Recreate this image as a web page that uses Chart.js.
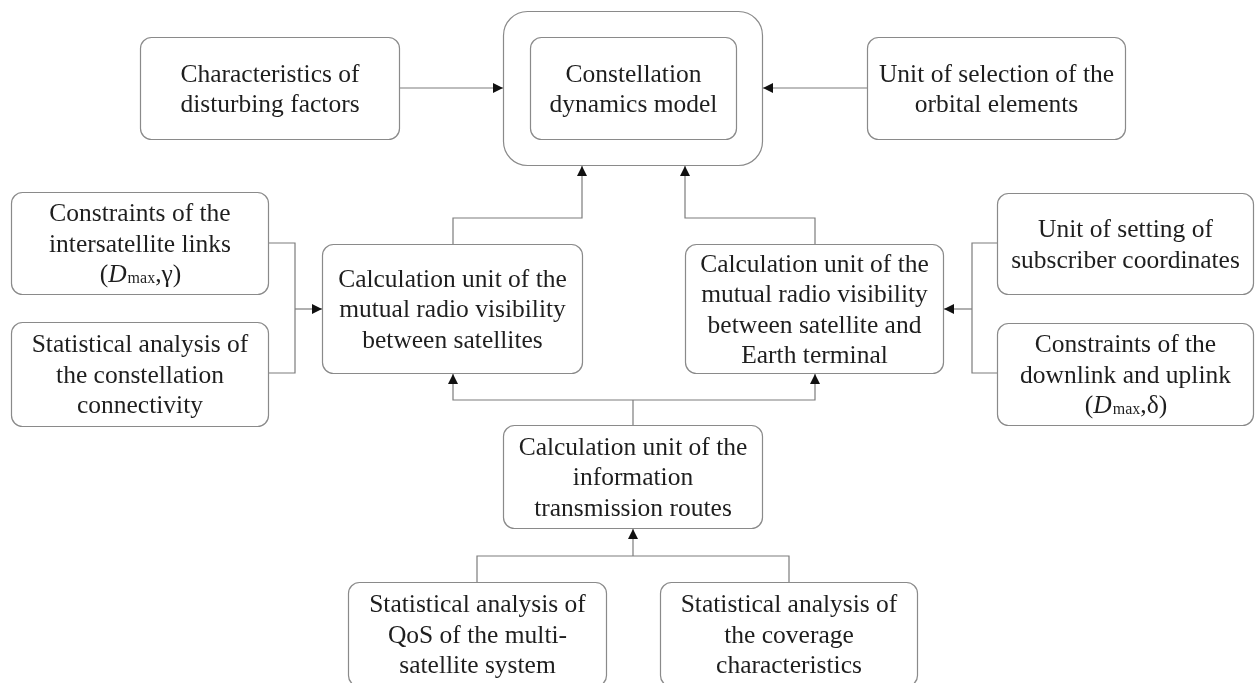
<!DOCTYPE html>
<html>
<head>
<meta charset="utf-8">
<script src="https://cdn.jsdelivr.net/npm/chart.js@4.4.1/dist/chart.umd.min.js"></script>
<style>
  html, body { margin: 0; padding: 0; background: #ffffff; }
  #wrap { width: 1255px; height: 683px; position: relative; }
</style>
</head>
<body>
<div id="wrap"><canvas id="c" width="1255" height="683"></canvas></div>
<script>
// ---- Diagram data (diagram units = reference pixels) ----
const boxLabels = [
  ["Characteristics of", "disturbing factors"],
  ["Constellation", "dynamics model"],
  ["Unit of selection of the", "orbital elements"],
  ["Constraints of the", "intersatellite links", "([i]D[/i][s]max[/s],γ)"],
  ["Statistical analysis of", "the constellation", "connectivity"],
  ["Calculation unit of the", "mutual radio visibility", "between satellites"],
  ["Calculation unit of the", "mutual radio visibility", "between satellite and", "Earth terminal"],
  ["Unit of setting of", "subscriber coordinates"],
  ["Constraints of the", "downlink and uplink", "([i]D[/i][s]max[/s],δ)"],
  ["Calculation unit of the", "information", "transmission routes"],
  ["Statistical analysis of", "QoS of the multi-", "satellite system"],
  ["Statistical analysis of", "the coverage", "characteristics"]
];
const boxLeft   = [140, 530, 867, 11, 11, 322, 685, 997, 997, 503, 348, 660];
const boxRight  = [400, 737, 1126, 269, 269, 583, 944, 1254, 1254, 763, 607, 918];
const boxTop    = [37, 37, 37, 192, 322, 244, 244, 193, 323, 425, 582, 582];
const boxBottom = [140, 140, 140, 295, 427, 374, 374, 295, 426, 529, 687, 687];

// outer frame around "Constellation dynamics model"
const frameLeft = [503], frameRight = [763], frameTop = [11], frameBottom = [166];

// connectors: polylines; arrow flag marks an arrowhead at the last point
const connectors = [
  { pts: [[400, 88], [503, 88]], arrow: true },
  { pts: [[867, 88], [763, 88]], arrow: true },
  { pts: [[453, 244], [453, 218], [582, 218], [582, 166]], arrow: true },
  { pts: [[815, 244], [815, 218], [685, 218], [685, 166]], arrow: true },
  { pts: [[269, 243], [295, 243], [295, 373], [269, 373]], arrow: false },
  { pts: [[295, 309], [322, 309]], arrow: true },
  { pts: [[997, 243], [972, 243], [972, 373], [997, 373]], arrow: false },
  { pts: [[972, 309], [944, 309]], arrow: true },
  { pts: [[633, 425], [633, 400]], arrow: false },
  { pts: [[633, 400], [453, 400], [453, 374]], arrow: true },
  { pts: [[633, 400], [815, 400], [815, 374]], arrow: true },
  { pts: [[477, 582], [477, 556], [789, 556], [789, 582]], arrow: false },
  { pts: [[633, 556], [633, 529]], arrow: true }
];

// ---- Styles ----
const LINE_COLOR = '#7c7c7c';
const BOX_COLOR = '#8a8a8a';
const TEXT_COLOR = '#1e1e1e';
const FONT_FAMILY = '"Liberation Serif", "Times New Roman", serif';
const FONT_SIZE = 25.5;
const SUB_SIZE = 16;
const LINE_H = 30.5;

function parseRich(line) {
  const segs = [];
  const re = /\[(i|s)\](.*?)\[\/\1\]/g;
  let last = 0, m;
  while ((m = re.exec(line)) !== null) {
    if (m.index > last) segs.push({ t: line.slice(last, m.index), k: 'n' });
    segs.push({ t: m[2], k: m[1] });
    last = re.lastIndex;
  }
  if (last < line.length) segs.push({ t: line.slice(last), k: 'n' });
  return segs;
}
function segFont(k) {
  if (k === 'i') return 'italic ' + FONT_SIZE + 'px ' + FONT_FAMILY;
  if (k === 's') return SUB_SIZE + 'px ' + FONT_FAMILY;
  return FONT_SIZE + 'px ' + FONT_FAMILY;
}

function roundRect(ctx, x0, y0, x1, y1, r) {
  ctx.beginPath();
  ctx.moveTo(x0 + r, y0);
  ctx.lineTo(x1 - r, y0);
  ctx.arcTo(x1, y0, x1, y0 + r, r);
  ctx.lineTo(x1, y1 - r);
  ctx.arcTo(x1, y1, x1 - r, y1, r);
  ctx.lineTo(x0 + r, y1);
  ctx.arcTo(x0, y1, x0, y1 - r, r);
  ctx.lineTo(x0, y0 + r);
  ctx.arcTo(x0, y0, x0 + r, y0, r);
  ctx.closePath();
}

const diagramPlugin = {
  id: 'diagram',
  afterDatasetsDraw(chart) {
    const ctx = chart.ctx;
    const xs = chart.scales.x, ys = chart.scales.y;
    const px = v => xs.getPixelForValue(v);
    const py = v => ys.getPixelForValue(v);
    ctx.save();
    // outer frame
    ctx.strokeStyle = BOX_COLOR;
    ctx.lineWidth = 1.2;
    for (let i = 0; i < frameLeft.length; i++) {
      roundRect(ctx, px(frameLeft[i]) + 0.5, py(frameTop[i]) + 0.5, px(frameRight[i]) - 0.5, py(frameBottom[i]) - 0.5, 24);
      ctx.stroke();
    }
    // boxes + text
    for (let i = 0; i < boxLabels.length; i++) {
      const x0 = px(boxLeft[i]) + 0.5, x1 = px(boxRight[i]) - 0.5;
      const y0 = py(boxTop[i]) + 0.5, y1 = py(boxBottom[i]) - 0.5;
      ctx.strokeStyle = BOX_COLOR;
      ctx.lineWidth = 1.2;
      roundRect(ctx, x0, y0, x1, y1, 11);
      ctx.stroke();
      const lines = boxLabels[i];
      const cx = (px(boxLeft[i]) + px(boxRight[i])) / 2;
      const cy = (py(boxTop[i]) + py(boxBottom[i])) / 2;
      const n = lines.length;
      ctx.fillStyle = TEXT_COLOR;
      ctx.textBaseline = 'alphabetic';
      for (let j = 0; j < n; j++) {
        const ly = cy + (j - (n - 1) / 2) * LINE_H + FONT_SIZE * 0.33;
        const segs = parseRich(lines[j]);
        let total = 0;
        segs.forEach(s => { ctx.font = segFont(s.k); s.w = ctx.measureText(s.t).width; total += s.w; });
        let x = cx - total / 2;
        ctx.textAlign = 'left';
        segs.forEach(s => {
          ctx.font = segFont(s.k);
          ctx.fillText(s.t, x, ly + (s.k === 's' ? 1 : 0));
          x += s.w + (s.k === 'i' ? 1 : 0);
        });
      }
    }
    // arrowheads
    ctx.fillStyle = '#111111';
    chart.data.datasets.forEach(ds => {
      if (!ds.arrow) return;
      const d = ds.data;
      const a = d[d.length - 2], b = d[d.length - 1];
      const ax = px(a.x), ay = py(a.y), bx = px(b.x), by = py(b.y);
      const ang = Math.atan2(by - ay, bx - ax);
      const L = 10, W = 5;
      ctx.beginPath();
      ctx.moveTo(bx, by);
      ctx.lineTo(bx - L * Math.cos(ang) + W * Math.sin(ang), by - L * Math.sin(ang) - W * Math.cos(ang));
      ctx.lineTo(bx - L * Math.cos(ang) - W * Math.sin(ang), by - L * Math.sin(ang) + W * Math.cos(ang));
      ctx.closePath();
      ctx.fill();
    });
    ctx.restore();
  }
};

const datasets = connectors.map(c => ({
  type: 'line',
  data: c.pts.map(p => ({ x: p[0], y: p[1] })),
  arrow: c.arrow,
  borderColor: LINE_COLOR,
  borderWidth: 1.2,
  pointRadius: 0,
  pointHoverRadius: 0,
  tension: 0,
  fill: false,
  showLine: true
}));

new Chart(document.getElementById('c'), {
  type: 'scatter',
  data: { datasets },
  options: {
    responsive: false,
    animation: false,
    events: [],
    layout: { padding: 0 },
    plugins: { legend: { display: false }, tooltip: { enabled: false } },
    scales: {
      x: { type: 'linear', min: 0, max: 1255, display: false },
      y: { type: 'linear', min: 0, max: 683, reverse: true, display: false }
    }
  },
  plugins: [diagramPlugin]
});
</script>
</body>
</html>
